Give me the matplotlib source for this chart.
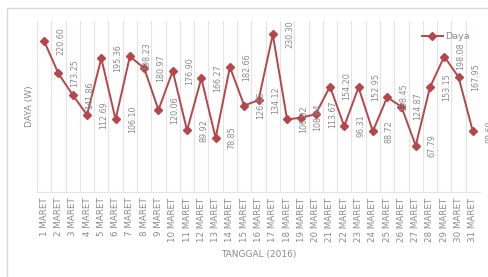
import matplotlib
matplotlib.use("Agg")
from matplotlib import pyplot as plt
from matplotlib.patches import Rectangle

days = [f"{d} MARET" for d in range(1, 32)]
daya = [220.60, 173.25, 141.86, 112.69, 195.36, 106.10, 198.23, 180.97,
        120.06, 176.90, 89.92, 166.27, 78.85, 182.66, 126.45, 134.12,
        230.30, 106.02, 108.84, 113.67, 154.20, 96.31, 152.95, 88.72,
        138.45, 124.87, 67.79, 153.15, 198.08, 167.95, 88.69]

LINE_COLOR = "#B5474B"
TEXT_COLOR = "#8a8a8a"
GRID_COLOR = "#e3e3e3"

fig = plt.figure(figsize=(4.88, 2.77), dpi=100)
ax = fig.add_axes([37 / 488, 1 - 192 / 277, 443 / 488, 171 / 277])

# chart frame (Excel style)
fig.patches.append(Rectangle((7 / 488, -0.1), 1.2, 1 - 8 / 277 + 0.1,
                             transform=fig.transFigure, fill=False,
                             edgecolor="#d9d9d9", linewidth=1.0))

x = list(range(len(days)))
ax.plot(x, daya, color=LINE_COLOR, linewidth=1.4, marker="D",
        markersize=4.5, label="Daya")

# data labels, rotated, right of each point
for xi, yi in zip(x, daya):
    ax.annotate(f"{yi:.2f}", (xi, yi), xytext=(12, 0),
                textcoords="offset points", rotation=90,
                ha="center", va="center", fontsize=5.8, color=TEXT_COLOR,
                annotation_clip=False)

ax.set_xlim(-0.5, len(days) - 0.5)
ax.set_ylim(0, 250)
ax.set_xticks(x)
ax.set_xticklabels(days, rotation=90, fontsize=6.3, color=TEXT_COLOR)
ax.set_xticks([i - 0.5 for i in range(len(days) + 1)], minor=True)
ax.tick_params(axis="x", which="both", length=0, pad=4)
ax.grid(True, which="minor", axis="x", color=GRID_COLOR, linewidth=0.8)
ax.set_yticks([])

for side in ["top", "left", "right"]:
    ax.spines[side].set_visible(False)
ax.spines["bottom"].set_color(GRID_COLOR)

ax.set_ylabel("DAYA (W)", fontsize=6.5, color=TEXT_COLOR, labelpad=2)
ax.set_xlabel("TANGGAL (2016)", fontsize=6.5, color=TEXT_COLOR, labelpad=6)

leg = ax.legend(loc="upper right", bbox_to_anchor=(0.995, 0.985), frameon=False,
                fontsize=6.8, handlelength=2.2, handletextpad=0.2)
for t in leg.get_texts():
    t.set_color(TEXT_COLOR)

fig.savefig("out.png", dpi=100)
